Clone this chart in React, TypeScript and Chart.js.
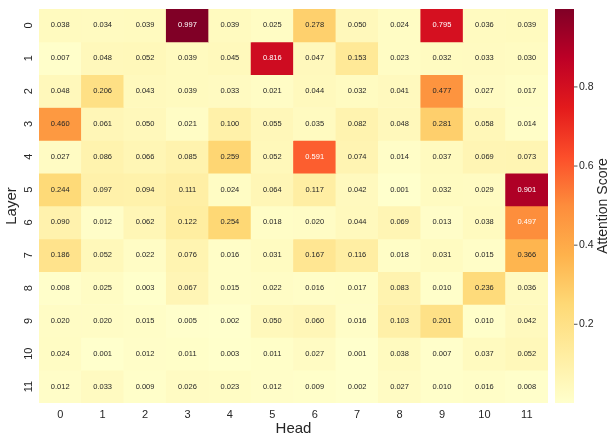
import React, { useEffect, useRef } from 'react';
import { Chart, registerables } from 'chart.js';

Chart.register(...registerables);

const heads = ['0', '1', '2', '3', '4', '5', '6', '7', '8', '9', '10', '11'];
const layers = [0, 1, 2, 3, 4, 5, 6, 7, 8, 9, 10, 11];
const layerLabels = ['0', '1', '2', '3', '4', '5', '6', '7', '8', '9', '10', '11'];

const layer0 = [0.038, 0.034, 0.039, 0.997, 0.039, 0.025, 0.278, 0.050, 0.024, 0.795, 0.036, 0.039];
const layer1 = [0.007, 0.048, 0.052, 0.039, 0.045, 0.816, 0.047, 0.153, 0.023, 0.032, 0.033, 0.030];
const layer2 = [0.048, 0.206, 0.043, 0.039, 0.033, 0.021, 0.044, 0.032, 0.041, 0.477, 0.027, 0.017];
const layer3 = [0.460, 0.061, 0.050, 0.021, 0.100, 0.055, 0.035, 0.082, 0.048, 0.281, 0.058, 0.014];
const layer4 = [0.027, 0.086, 0.066, 0.085, 0.259, 0.052, 0.591, 0.074, 0.014, 0.037, 0.069, 0.073];
const layer5 = [0.244, 0.097, 0.094, 0.111, 0.024, 0.064, 0.117, 0.042, 0.001, 0.032, 0.029, 0.901];
const layer6 = [0.090, 0.012, 0.062, 0.122, 0.254, 0.018, 0.020, 0.044, 0.069, 0.013, 0.038, 0.497];
const layer7 = [0.186, 0.052, 0.022, 0.076, 0.016, 0.031, 0.167, 0.116, 0.018, 0.031, 0.015, 0.366];
const layer8 = [0.008, 0.025, 0.003, 0.067, 0.015, 0.022, 0.016, 0.017, 0.083, 0.010, 0.236, 0.036];
const layer9 = [0.020, 0.020, 0.015, 0.005, 0.002, 0.050, 0.060, 0.016, 0.103, 0.201, 0.010, 0.042];
const layer10 = [0.024, 0.001, 0.012, 0.011, 0.003, 0.011, 0.027, 0.001, 0.038, 0.007, 0.037, 0.052];
const layer11 = [0.012, 0.033, 0.009, 0.026, 0.023, 0.012, 0.009, 0.002, 0.027, 0.010, 0.016, 0.008];

const values = [layer0, layer1, layer2, layer3, layer4, layer5, layer6, layer7, layer8, layer9, layer10, layer11];
const colorbarTicks = [0.2, 0.4, 0.6, 0.8];

const YLORRD = ['#ffffcc', '#ffeda0', '#fed976', '#feb24c', '#fd8d3c', '#fc4e2a', '#e31a1c', '#bd0026', '#800026'];
const FONT = '"Liberation Sans", Arial, Helvetica, sans-serif';
const TEXT = '#262626';

const allVals = values.flat();
const vmin = Math.min(...allVals);
const vmax = Math.max(...allVals);

function hexToRgb(h: string): number[] {
  return [parseInt(h.slice(1, 3), 16), parseInt(h.slice(3, 5), 16), parseInt(h.slice(5, 7), 16)];
}
const stops = YLORRD.map(hexToRgb);

function rgbFor(v: number): number[] {
  let t = (v - vmin) / (vmax - vmin);
  t = Math.max(0, Math.min(1, t));
  const p = t * (stops.length - 1);
  const i = Math.min(Math.floor(p), stops.length - 2);
  const f = p - i;
  return stops[i].map((c, k) => Math.round(c + (stops[i + 1][k] - c) * f));
}
function colorFor(v: number): string {
  const [r, g, b] = rgbFor(v);
  return `rgb(${r},${g},${b})`;
}
function textColorFor(v: number): string {
  const lin = rgbFor(v).map((c) => {
    const s = c / 255;
    return s <= 0.03928 ? s / 12.92 : Math.pow((s + 0.055) / 1.055, 2.4);
  });
  const lum = 0.2126 * lin[0] + 0.7152 * lin[1] + 0.0722 * lin[2];
  return lum > 0.408 ? TEXT : '#ffffff';
}

const extrasPlugin = {
  id: 'heatmapExtras',
  afterDatasetsDraw(chart: any) {
    const ctx = chart.ctx as CanvasRenderingContext2D;
    const area = chart.chartArea;
    ctx.save();
    // cell annotations
    ctx.font = `7.5px ${FONT}`;
    ctx.textAlign = 'center';
    ctx.textBaseline = 'middle';
    chart.data.datasets.forEach((_ds: any, di: number) => {
      const meta = chart.getDatasetMeta(di);
      meta.data.forEach((bar: any, hi: number) => {
        const v = values[di][hi];
        const p = bar.getProps(['x', 'y', 'base'], true);
        ctx.fillStyle = textColorFor(v);
        ctx.fillText(v.toFixed(3), p.x, (p.y + p.base) / 2);
      });
    });
    // y tick labels (rotated)
    const ys = chart.scales.y;
    ctx.fillStyle = TEXT;
    ctx.font = `11px ${FONT}`;
    layers.forEach((l, i) => {
      const py = ys.getPixelForValue(l);
      ctx.save();
      ctx.translate(area.left - 10, py);
      ctx.rotate(-Math.PI / 2);
      ctx.fillText(layerLabels[i], 0, 0);
      ctx.restore();
    });
    // y title
    ctx.font = `15px ${FONT}`;
    ctx.save();
    ctx.translate(area.left - 27, (area.top + area.bottom) / 2);
    ctx.rotate(-Math.PI / 2);
    ctx.fillText('Layer', 0, 0);
    ctx.restore();
    // colorbar
    const cb = chart.scales.cb;
    const x0 = area.right + 7;
    const w = 19;
    const top = cb.getPixelForValue(vmax);
    const bottom = cb.getPixelForValue(vmin);
    const grad = ctx.createLinearGradient(0, bottom, 0, top);
    YLORRD.forEach((c, i) => grad.addColorStop(i / (YLORRD.length - 1), c));
    ctx.fillStyle = grad;
    ctx.fillRect(x0, top, w, bottom - top);
    ctx.strokeStyle = TEXT;
    ctx.lineWidth = 0.8;
    ctx.font = `10.5px ${FONT}`;
    ctx.textAlign = 'left';
    ctx.fillStyle = TEXT;
    colorbarTicks.forEach((t) => {
      const py = cb.getPixelForValue(t);
      ctx.beginPath();
      ctx.moveTo(x0 + w, py);
      ctx.lineTo(x0 + w + 3.5, py);
      ctx.stroke();
      ctx.fillText(t.toFixed(1), x0 + w + 5, py);
    });
    ctx.font = `14px ${FONT}`;
    ctx.textAlign = 'center';
    ctx.save();
    ctx.translate(x0 + w + 29, (top + bottom) / 2);
    ctx.rotate(-Math.PI / 2);
    ctx.fillText('Attention Score', 0, 0);
    ctx.restore();
    ctx.restore();
  },
};

export default function App() {
  const canvasRef = useRef<HTMLCanvasElement | null>(null);

  useEffect(() => {
    document.body.style.margin = '0';
    const canvas = canvasRef.current;
    if (!canvas) return;
    const datasets = layers.map((l, li) => ({
      label: `Layer ${layerLabels[li]}`,
      data: heads.map(() => [l - 0.5, l + 0.5]),
      backgroundColor: values[li].map(colorFor),
      borderWidth: 0,
      barPercentage: 1,
      categoryPercentage: 1,
      grouped: false,
    }));
    const chart = new Chart(canvas, {
      type: 'bar',
      data: { labels: heads, datasets: datasets as any },
      options: {
        responsive: false,
        animation: false,
        layout: { padding: { left: 39, right: 61, top: 9, bottom: 0 } },
        plugins: { legend: { display: false }, tooltip: { enabled: false }, title: { display: false } },
        scales: {
          x: {
            type: 'category',
            grid: { display: false, drawTicks: false },
            border: { display: false },
            ticks: { color: TEXT, font: { family: FONT, size: 11, lineHeight: 1 }, padding: 6, maxRotation: 0 },
            title: {
              display: true,
              text: 'Head',
              color: TEXT,
              font: { family: FONT, size: 15, lineHeight: 1 },
              padding: { top: -5, bottom: 0 },
            },
          },
          y: {
            type: 'linear',
            display: false,
            reverse: true,
            min: -0.5,
            max: 11.5,
          },
          cb: {
            type: 'linear',
            display: false,
            position: 'right',
            min: vmin,
            max: vmax,
          },
        },
      },
      plugins: [extrasPlugin],
    });
    return () => chart.destroy();
  }, []);

  return (
    <div style={{ width: 609, height: 436 }}>
      <canvas ref={canvasRef} width={609} height={436} style={{ display: 'block' }} />
    </div>
  );
}
